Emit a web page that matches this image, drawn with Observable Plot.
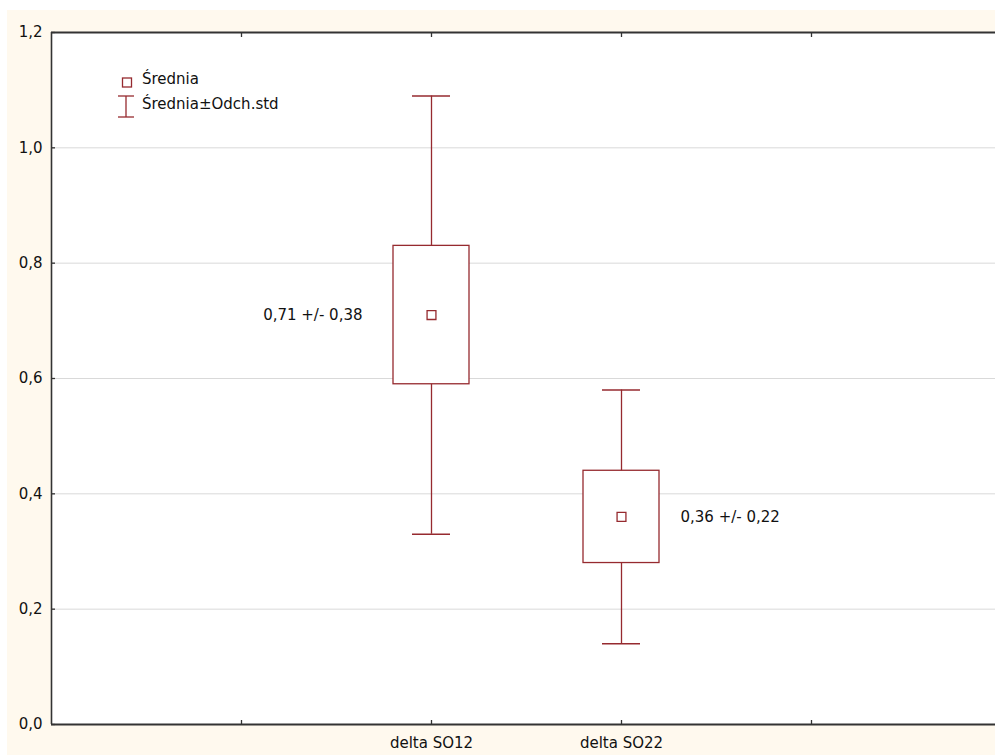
<!DOCTYPE html>
<html>
<head>
<meta charset="utf-8">
<script src="https://cdn.jsdelivr.net/npm/d3@7"></script>
<script src="https://cdn.jsdelivr.net/npm/@observablehq/plot@0.6"></script>
<style>
  html, body { margin: 0; padding: 0; background: #ffffff; overflow: hidden; }
  #wrap { position: relative; width: 995px; height: 755px; overflow: hidden; }
  #panel { position: absolute; left: 7px; top: 10px; right: 0; bottom: 0; background: #fff9ee; }
  #chart { position: absolute; left: 0; top: 0; }
  #legend { position: absolute; left: 0; top: 0; pointer-events: none; }
  #legend text { font-family: "DejaVu Sans", sans-serif; font-size: 15px; fill: #111; }
</style>
</head>
<body>
<div id="wrap">
  <div id="panel"></div>
  <div id="chart"></div>
  <svg id="legend" width="300" height="130">
    <rect x="122.5" y="78" width="9" height="9" fill="#ffffff" stroke="#962a2f" stroke-width="1.3"></rect>
    <g stroke="#962a2f" stroke-width="1.3">
      <line x1="126" y1="96" x2="126" y2="117"></line>
      <line x1="118" y1="96" x2="134" y2="96"></line>
      <line x1="118" y1="117" x2="134" y2="117"></line>
    </g>
    <text x="142" y="84">Średnia</text>
    <text x="142" y="109">Średnia±Odch.std</text>
  </svg>
</div>
<script>
// Variables and their summary statistics
const categories = ["delta SO12", "delta SO22"];
const means = [0.71, 0.36];
const stdDevs = [0.38, 0.22];
const stdErrors = [0.12, 0.08];

// Axis ticks
const yTicks = [0, 0.2, 0.4, 0.6, 0.8, 1.0, 1.2];
const gridTicks = [0.2, 0.4, 0.6, 0.8, 1.0];
const xTicks = [1, 2, 3, 4];

const boxColor = "#962a2f";
const frameColor = "#333333";
const comma = (v, digits) => v.toFixed(digits).replace(".", ",");

// Each variable occupies a slot on a 0..5 axis, starting at slot 2
const rows = categories.map((name, i) => ({
  name,
  pos: i + 2,
  mean: means[i],
  sd: stdDevs[i],
  se: stdErrors[i],
  label: `${comma(means[i], 2)} +/- ${comma(stdDevs[i], 2)}`
}));

const xLabel = (d) => {
  const r = rows.find((row) => row.pos === d);
  return r ? r.name : "";
};

// The last slot runs slightly past the right edge of the drawing
const chart = Plot.plot({
  width: 995,
  height: 755,
  marginTop: 32,
  marginBottom: 31,
  marginLeft: 51,
  marginRight: 0,
  style: {
    background: "transparent",
    maxWidth: "none",
    overflow: "hidden",
    fontFamily: "DejaVu Sans, sans-serif",
    fontSize: "15px",
    color: "#111"
  },
  x: { domain: [0, 5], range: [51, 1001] },
  y: { domain: [0, 1.2] },
  marks: [
    Plot.frame({ fill: "#ffffff", stroke: null }),
    Plot.ruleY(gridTicks, { stroke: "#d9d9d9", strokeWidth: 1 }),

    // axis labels
    Plot.axisY(yTicks, {
      anchor: "left", tickSize: 0, tickPadding: 9,
      tickFormat: (d) => comma(d, 1), label: null, fill: "#111"
    }),
    Plot.axisX(xTicks, {
      anchor: "bottom", tickSize: 0, tickPadding: 13,
      tickFormat: xLabel, label: null, fill: "#111"
    }),
    // inward tick marks
    Plot.axisY(yTicks, {
      anchor: "left", tickSize: 4, dx: 4, tickFormat: () => "",
      label: null, stroke: frameColor, strokeWidth: 1.3
    }),
    Plot.axisX(xTicks, {
      anchor: "bottom", tickSize: 4, dy: -4, tickFormat: () => "",
      label: null, stroke: frameColor, strokeWidth: 1.3
    }),
    Plot.axisX(xTicks, {
      anchor: "top", tickSize: 4, dy: 4, tickFormat: () => "",
      label: null, stroke: frameColor, strokeWidth: 1.3
    }),

    // whiskers: mean ± standard deviation
    Plot.ruleX(rows, {
      x: "pos", y1: (d) => d.mean - d.sd, y2: (d) => d.mean + d.sd,
      stroke: boxColor, strokeWidth: 1.3
    }),
    Plot.ruleY(rows, {
      y: (d) => d.mean + d.sd, x1: (d) => d.pos - 0.1, x2: (d) => d.pos + 0.1,
      stroke: boxColor, strokeWidth: 1.5
    }),
    Plot.ruleY(rows, {
      y: (d) => d.mean - d.sd, x1: (d) => d.pos - 0.1, x2: (d) => d.pos + 0.1,
      stroke: boxColor, strokeWidth: 1.5
    }),
    // boxes: mean ± standard error
    Plot.rect(rows, {
      x1: (d) => d.pos - 0.2, x2: (d) => d.pos + 0.2,
      y1: (d) => d.mean - d.se, y2: (d) => d.mean + d.se,
      fill: "#ffffff", stroke: boxColor, strokeWidth: 1.3
    }),
    // means
    Plot.dot(rows, {
      x: "pos", y: "mean", symbol: "square", r: 5,
      fill: "#ffffff", stroke: boxColor, strokeWidth: 1.3
    }),

    // value annotations
    Plot.text(rows.slice(0, 1), {
      x: "pos", y: "mean", text: "label", textAnchor: "end", dx: -69, fill: "#111"
    }),
    Plot.text(rows.slice(1, 2), {
      x: "pos", y: "mean", text: "label", textAnchor: "start", dx: 59, fill: "#111"
    }),

    // plot border: left, bottom and top edges
    Plot.ruleY([0, 1.2], { stroke: frameColor, strokeWidth: 1.8 }),
    Plot.ruleX([0], { stroke: frameColor, strokeWidth: 1.6 })
  ]
});

document.getElementById("chart").appendChild(chart);
</script>
</body>
</html>
